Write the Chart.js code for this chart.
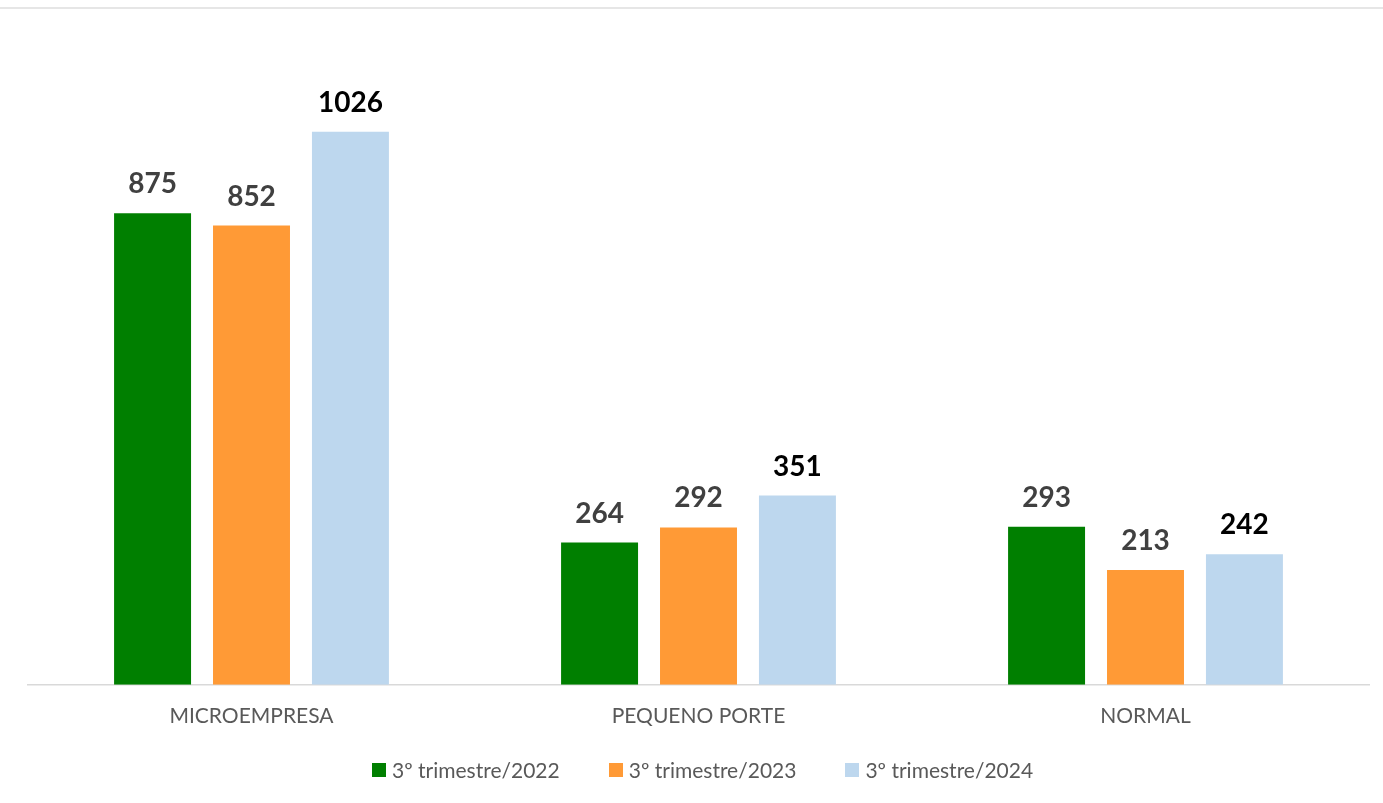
<!DOCTYPE html>
<html>
<head>
<meta charset="utf-8">
<script src="https://cdn.jsdelivr.net/npm/chart.js@4/dist/chart.umd.min.js"></script>
<style>
  html, body { margin: 0; padding: 0; background: #ffffff; }
  #wrap { position: relative; width: 1383px; height: 803px; overflow: hidden; }
  #topline { position: absolute; left: 0; top: 7px; width: 1383px; height: 2px; background: #e6e6e6; }
  #c { position: absolute; left: 0; top: 0; }
  #legend { position: absolute; left: 372px; top: 757px; display: flex;
            font-family: Lato, "Open Sans", sans-serif; font-size: 21px; color: #595959; white-space: nowrap; }
  .item { display: flex; align-items: center; }
  .box { width: 14px; height: 14px; margin-right: 6px; }
</style>
</head>
<body>
<div id="wrap">
  <div id="topline"></div>
  <canvas id="c" width="1383" height="803"></canvas>
  <div id="legend"></div>
</div>
<script>
const categories = ["MICROEMPRESA", "PEQUENO PORTE", "NORMAL"];
const seriesNames = ["3º trimestre/2022", "3º trimestre/2023", "3º trimestre/2024"];
const values2022 = [875, 264, 293];
const values2023 = [852, 292, 213];
const values2024 = [1026, 351, 242];
const seriesColors = ["#007f00", "#ff9a36", "#bdd7ee"];
const labelColors = ["#404040", "#404040", "#000000"];

const seriesValues = [values2022, values2023, values2024];

const valueLabels = {
  id: 'valueLabels',
  afterDatasetsDraw(chart) {
    const ctx = chart.ctx;
    ctx.save();
    ctx.font = 'bold 28px Lato, "Open Sans", sans-serif';
    ctx.textAlign = 'center';
    ctx.textBaseline = 'alphabetic';
    chart.data.datasets.forEach((ds, i) => {
      const meta = chart.getDatasetMeta(i);
      meta.data.forEach((bar, j) => {
        ctx.fillStyle = labelColors[i];
        ctx.fillText(String(ds.data[j]), bar.x, bar.y - 20);
      });
    });
    ctx.restore();
  }
};

new Chart(document.getElementById('c'), {
  type: 'bar',
  data: {
    labels: categories,
    datasets: seriesValues.map((v, i) => ({
      label: seriesNames[i],
      data: v,
      backgroundColor: seriesColors[i],
      borderWidth: 0,
      categoryPercentage: 0.664,
      barPercentage: 0.778
    }))
  },
  options: {
    responsive: false,
    animation: false,
    layout: { padding: { left: 28, right: 14, top: 38, bottom: 63 } },
    plugins: { legend: { display: false }, tooltip: { enabled: false } },
    scales: {
      y: { display: false, min: 0, max: 1200 },
      x: {
        grid: { display: false },
        border: { display: true, color: '#d9d9d9', width: 1.5 },
        ticks: { color: '#595959', padding: 11, font: { family: 'Lato, "Open Sans", sans-serif', size: 21 } }
      }
    }
  },
  plugins: [valueLabels]
});

const legend = document.getElementById('legend');
seriesNames.forEach((name, i) => {
  const item = document.createElement('div');
  item.className = 'item';
  item.style.marginRight = i < seriesNames.length - 1 ? '49px' : '0';
  const box = document.createElement('div');
  box.className = 'box';
  box.style.background = seriesColors[i];
  const txt = document.createElement('span');
  txt.textContent = name;
  item.appendChild(box);
  item.appendChild(txt);
  legend.appendChild(item);
});
</script>
</body>
</html>
